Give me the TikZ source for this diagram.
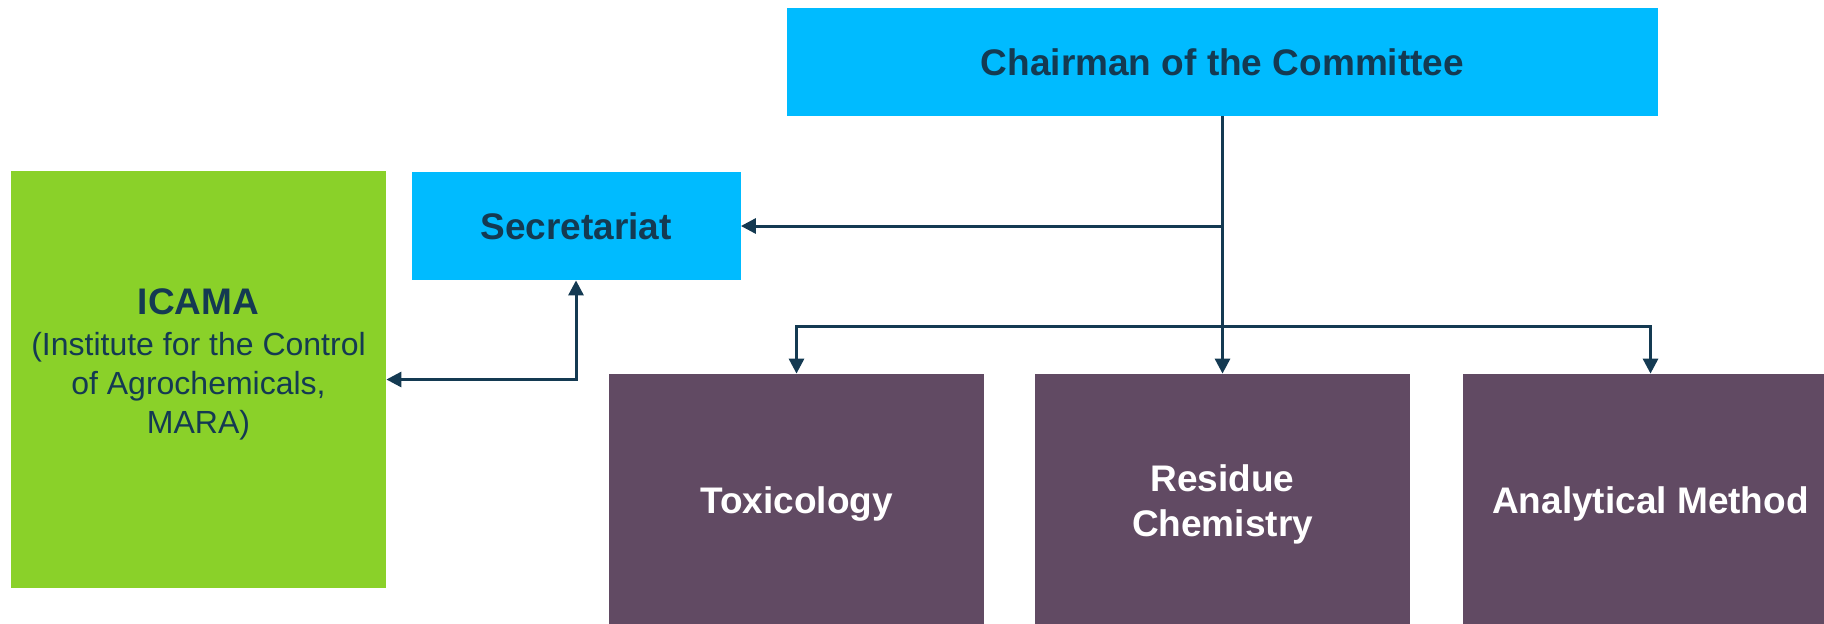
\documentclass[tikz,border=0pt]{standalone}
\usepackage{fontspec}
\setmainfont{Liberation Sans}
\usetikzlibrary{arrows.meta}
\definecolor{cyanbox}{RGB}{0,187,255}
\definecolor{greenbox}{RGB}{138,209,41}
\definecolor{purplebox}{RGB}{97,74,99}
\definecolor{navy}{RGB}{20,58,82}
\tikzset{
  box/.style={draw=none, inner sep=0pt, align=center},
  cbox/.style={box, fill=cyanbox, text=navy, font=\fontsize{18.5}{22.5}\selectfont\bfseries},
  pbox/.style={box, fill=purplebox, text=white, minimum width=187.5pt, minimum height=130pt, font=\fontsize{18.5}{22.5}\selectfont\bfseries},
  conn/.style={draw=navy, line width=1.5pt},
  arr/.style={conn, -{Triangle[width=7.5pt,length=7.5pt]}},
  arrboth/.style={conn, {Triangle[width=7.5pt,length=7.5pt]}-{Triangle[width=7.5pt,length=7.5pt]}}
}
\begin{document}
\begin{tikzpicture}[x=0.5pt,y=-0.5pt]
\clip (0,0) rectangle (1824,623);
\fill[white] (0,0) rectangle (1824,623);
\node[cbox, minimum width=435.5pt, minimum height=54pt] (chair) at (1222.5,62) {Chairman of the Committee};
\node[cbox, minimum width=164.5pt, minimum height=54pt] (secr) at (576,226) {Secretariat};
\node[box, fill=greenbox, minimum width=187.5pt, minimum height=208.5pt] (icama) at (198.5,379.5) {};
\node[box, text=navy, font=\fontsize{16}{19.5}\selectfont] (icamatext) at (198.5,364.5) {{\fontsize{18.5}{19.5}\selectfont\bfseries ICAMA}\\[1pt](Institute for the Control\\of Agrochemicals,\\MARA)};
\node[pbox] (tox) at (796.5,504) {Toxicology};
\node[pbox] (res) at (1222.5,504) {Residue\\Chemistry};
\node[pbox] (ana) at (1650.5,504) {Analytical Method};
\coordinate (br) at (1222.5,326.5);
\draw[arr] (chair.south) -- (res.north);
\draw[arr] (chair.south) |- (secr.east);
\draw[arr] (br) -| (tox.north);
\draw[arr] (br) -| (ana.north);
\draw[arrboth] (icama.east) -| (secr.south);
\end{tikzpicture}
\end{document}
